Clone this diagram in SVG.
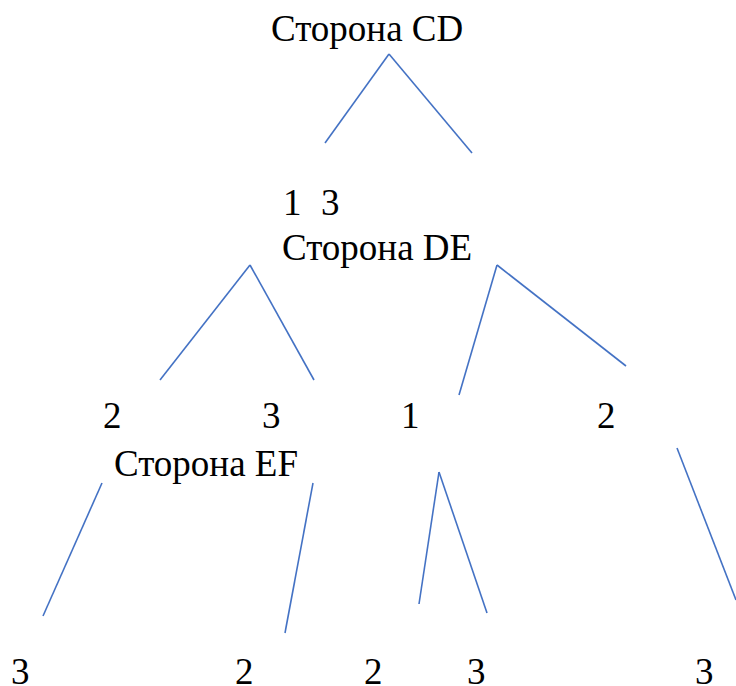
<svg xmlns="http://www.w3.org/2000/svg" width="736" height="686" viewBox="0 0 736 686">
  <style>
    .lbl { font-family: 'Liberation Serif' !important; font-size: 37px; fill: #000; }
    .edge { stroke: #4472C4; stroke-width: 1.6; fill: none; }
  </style>
  <rect width="736" height="686" fill="#fff"/>

  <!-- level 0 -->
  <g id="node-cd"><text class="lbl" x="271" y="41">Сторона CD</text></g>

  <!-- level 1 -->
  <g id="labels-cd">
    <text class="lbl" x="283" y="215">1</text>
    <text class="lbl" x="321" y="215">3</text>
  </g>
  <g id="node-de"><text class="lbl" x="282" y="260">Сторона DE</text></g>

  <!-- level 2 -->
  <g id="labels-de">
    <text class="lbl" x="103" y="428">2</text>
    <text class="lbl" x="262" y="428">3</text>
    <text class="lbl" x="401" y="428">1</text>
    <text class="lbl" x="597" y="428">2</text>
  </g>
  <g id="node-ef"><text class="lbl" x="114" y="476">Сторона EF</text></g>

  <!-- level 3 -->
  <g id="labels-ef">
    <text class="lbl" x="11" y="684">3</text>
    <text class="lbl" x="235" y="684">2</text>
    <text class="lbl" x="364" y="684">2</text>
    <text class="lbl" x="467" y="684">3</text>
    <text class="lbl" x="695" y="684">3</text>
  </g>

  <g id="connectors">
    <line class="edge" x1="389" y1="54" x2="325" y2="143"/>
    <line class="edge" x1="389" y1="54" x2="472" y2="153"/>
    <line class="edge" x1="250" y1="265" x2="160" y2="380"/>
    <line class="edge" x1="250" y1="265" x2="314" y2="380"/>
    <line class="edge" x1="497" y1="265" x2="459" y2="395"/>
    <line class="edge" x1="497" y1="265" x2="626" y2="366"/>
    <line class="edge" x1="102" y1="483" x2="43" y2="616"/>
    <line class="edge" x1="313" y1="483" x2="285" y2="633"/>
    <line class="edge" x1="439" y1="472" x2="419" y2="604"/>
    <line class="edge" x1="439" y1="472" x2="487" y2="613"/>
    <line class="edge" x1="677" y1="448" x2="736" y2="600"/>
  </g>
</svg>
